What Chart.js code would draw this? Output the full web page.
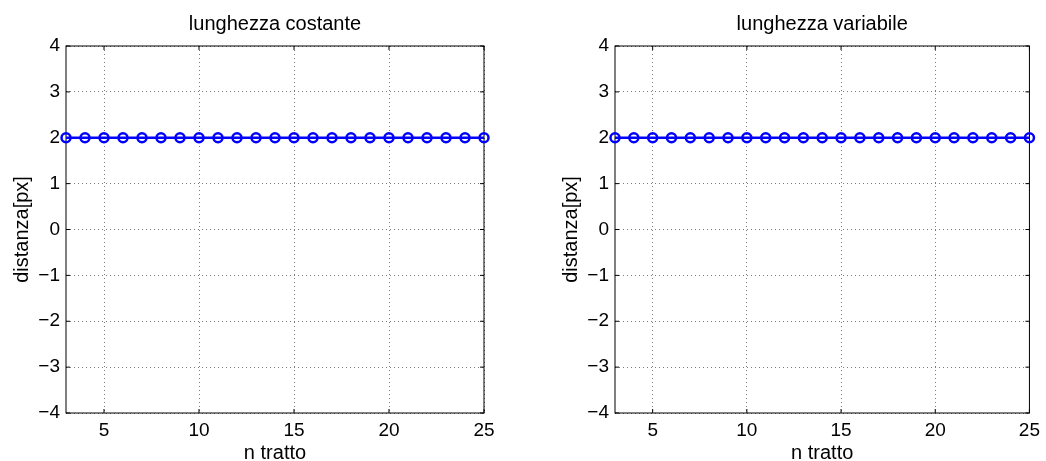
<!DOCTYPE html>
<html>
<head>
<meta charset="utf-8">
<script src="https://cdn.jsdelivr.net/npm/chart.js@4.4.0/dist/chart.umd.min.js"></script>
<style>
  html, body { margin: 0; padding: 0; background: #fff; }
  #wrap { position: relative; width: 1046px; height: 461px; }
  .panel { position: absolute; top: 0; width: 523px; height: 461px; }
</style>
</head>
<body>
<div id="wrap">
  <div class="panel" style="left:0"><canvas id="chartConst"></canvas></div>
  <div class="panel" style="left:523px"><canvas id="chartVar"></canvas></div>
</div>
<script>
// segment number (n tratto)
const segmentIndex = [3, 4, 5, 6, 7, 8, 9, 10, 11, 12, 13, 14, 15, 16, 17, 18, 19, 20, 21, 22, 23, 24, 25];
// distance per segment, constant length
const distConst = [2, 2, 2, 2, 2, 2, 2, 2, 2, 2, 2, 2, 2, 2, 2, 2, 2, 2, 2, 2, 2, 2, 2];
// distance per segment, variable length
const distVar = [2, 2, 2, 2, 2, 2, 2, 2, 2, 2, 2, 2, 2, 2, 2, 2, 2, 2, 2, 2, 2, 2, 2];

const xTicks = [5, 10, 15, 20, 25];
const yTicks = [-4, -3, -2, -1, 0, 1, 2, 3, 4];

const FONT = '"Liberation Sans", Arial, Helvetica, sans-serif';
const GRID = '#7a7a7a';

// box around the axes plus short inward tick marks on all sides
const axesFrame = {
    id: 'axesFrame',
    beforeDatasetsDraw(chart) {
        const { ctx, chartArea: a, scales } = chart;
        const len = 4;
        ctx.save();
        ctx.strokeStyle = '#000';
        ctx.lineWidth = 1;
        ctx.beginPath();
        scales.x.ticks.forEach(t => {
            const px = scales.x.getPixelForValue(t.value);
            ctx.moveTo(px, a.bottom); ctx.lineTo(px, a.bottom - len);
            ctx.moveTo(px, a.top); ctx.lineTo(px, a.top + len);
        });
        scales.y.ticks.forEach(t => {
            const py = scales.y.getPixelForValue(t.value);
            ctx.moveTo(a.left, py); ctx.lineTo(a.left + len, py);
            ctx.moveTo(a.right, py); ctx.lineTo(a.right - len, py);
        });
        ctx.stroke();
        ctx.strokeRect(a.left, a.top, a.right - a.left, a.bottom - a.top);
        ctx.restore();
    }
};

function minusLabel(v) {
    return v < 0 ? '\u2212' + Math.abs(v) : String(v);
}

function makeChart(canvasId, titleText, values, padLeft, padRight) {
    const ctx = document.getElementById(canvasId).getContext('2d');
    return new Chart(ctx, {
        type: 'line',
        data: {
            datasets: [{
                data: segmentIndex.map((x, i) => ({ x: x, y: values[i] })),
                borderColor: '#0000ff',
                borderWidth: 2.5,
                pointRadius: 4.5,
                pointBorderWidth: 2.5,
                pointBorderColor: '#0000ff',
                pointBackgroundColor: 'rgba(0,0,0,0)',
                tension: 0,
                clip: false
            }]
        },
        options: {
            responsive: true,
            maintainAspectRatio: false,
            animation: false,
            events: [],
            layout: { padding: { left: padLeft, right: padRight, top: 0, bottom: 0 } },
            plugins: {
                legend: { display: false },
                tooltip: { enabled: false },
                title: {
                    display: true,
                    text: titleText,
                    fullSize: false,
                    color: '#000',
                    font: { family: FONT, size: 20, weight: 'normal' },
                    padding: { top: 12, bottom: 10 }
                }
            },
            scales: {
                x: {
                    type: 'linear',
                    min: 3,
                    max: 25,
                    afterBuildTicks: s => { s.ticks = xTicks.map(v => ({ value: v })); },
                    afterFit: s => { s.height = 48; },
                    grid: { color: GRID, lineWidth: 1, drawTicks: false },
                    border: { display: false, dash: [1, 3] },
                    ticks: { color: '#000', padding: 6, font: { family: FONT, size: 19 } },
                    title: {
                        display: true,
                        text: 'n tratto',
                        color: '#000',
                        font: { family: FONT, size: 20, lineHeight: 0.8 },
                        padding: { top: 0, bottom: 0 }
                    }
                },
                y: {
                    type: 'linear',
                    min: -4,
                    max: 4,
                    afterBuildTicks: s => { s.ticks = yTicks.map(v => ({ value: v })); },
                    afterFit: s => { s.width = 66; },
                    grid: { color: GRID, lineWidth: 1, drawTicks: false },
                    border: { display: false, dash: [1, 3] },
                    ticks: { color: '#000', padding: 6, font: { family: FONT, size: 19 }, callback: minusLabel },
                    title: {
                        display: true,
                        text: 'distanza[px]',
                        color: '#000',
                        font: { family: FONT, size: 20, lineHeight: 1 },
                        padding: { top: 12.5, bottom: 0 }
                    }
                }
            }
        },
        plugins: [axesFrame]
    });
}

makeChart('chartConst', 'lunghezza costante', distConst, 0, 39);
makeChart('chartVar', 'lunghezza variabile', distVar, 26, 16);
</script>
</body>
</html>
